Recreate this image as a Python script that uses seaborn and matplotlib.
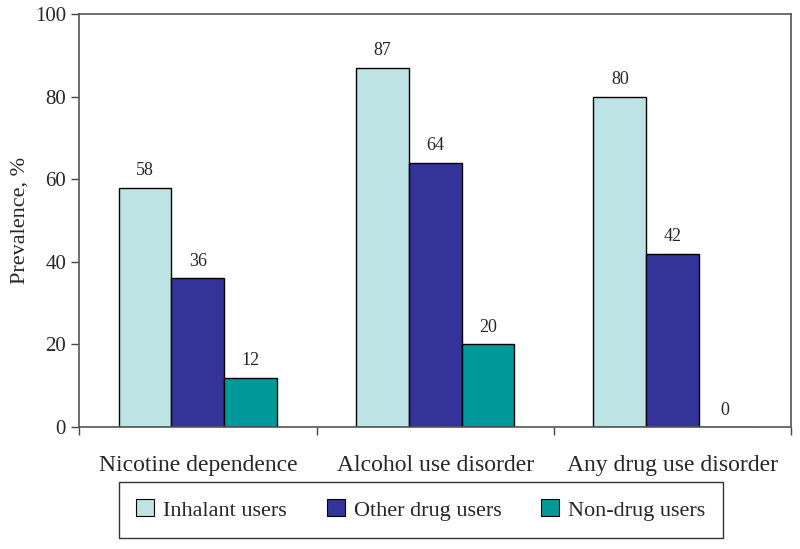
import matplotlib
matplotlib.use("Agg")
import matplotlib.pyplot as plt
import numpy as np
import pandas as pd
import seaborn as sns

categories = ["Nicotine dependence", "Alcohol use disorder", "Any drug use disorder"]
groups = ["Inhalant users", "Other drug users", "Non-drug users"]
inhalant = [58, 87, 80]
other_drug = [36, 64, 42]
non_drug = [12, 20, 0]
colors = ["#BDE3E5", "#333399", "#009999"]

sns.set_theme(style="white")
plt.rcParams["font.family"] = ["Liberation Serif", "DejaVu Serif"]

df = pd.DataFrame({
    "category": categories * 3,
    "group": [g for g in groups for _ in categories],
    "value": inhalant + other_drug + non_drug,
})

fig = plt.figure(figsize=(8, 5.49), dpi=100)
ax = fig.add_axes([0.099, 0.222, 0.89, 0.7525])
sns.barplot(data=df, x="category", y="value", hue="group", hue_order=groups,
            palette=colors, width=0.667, edgecolor="black", linewidth=1.0,
            saturation=1, ax=ax)

for container in ax.containers:
    ax.bar_label(container, fmt="%d", padding=6, fontsize=13)

ax.set_ylim(0, 100)
ax.set_yticks(np.arange(0, 101, 20))
ax.set_xlim(-0.5, 2.5)
ax.set_xticks([0, 1, 2])
ax.set_xticklabels(categories, fontsize=17)
ax.set_xticks([-0.5, 0.5, 1.5, 2.5], minor=True)
ax.tick_params(axis="x", which="major", length=0, pad=20)
ax.tick_params(axis="x", which="minor", length=6, width=1, color="#444444", direction="out", bottom=True)
ax.tick_params(axis="y", length=6, width=1, color="#444444", direction="out", left=True, labelsize=15)
ax.set_xlabel("")
ax.set_ylabel("Prevalence, %", fontsize=16)
for spine in ax.spines.values():
    spine.set_color("#555555")
    spine.set_linewidth(1.2)

ax.legend_.remove()
handles = [plt.Rectangle((0, 0), 1, 1, facecolor=c, edgecolor="black", linewidth=0.8) for c in colors]
leg = fig.legend(handles, groups, loc="center", bbox_to_anchor=(0.526, 0.071), ncol=3,
                 fontsize=16, frameon=True, fancybox=False, edgecolor="black",
                 handlelength=0.8, handleheight=0.8, handletextpad=0.4, columnspacing=1.8,
                 borderpad=0.8)
leg.get_frame().set_linewidth(1.0)

fig.savefig("out.png", dpi=100)
